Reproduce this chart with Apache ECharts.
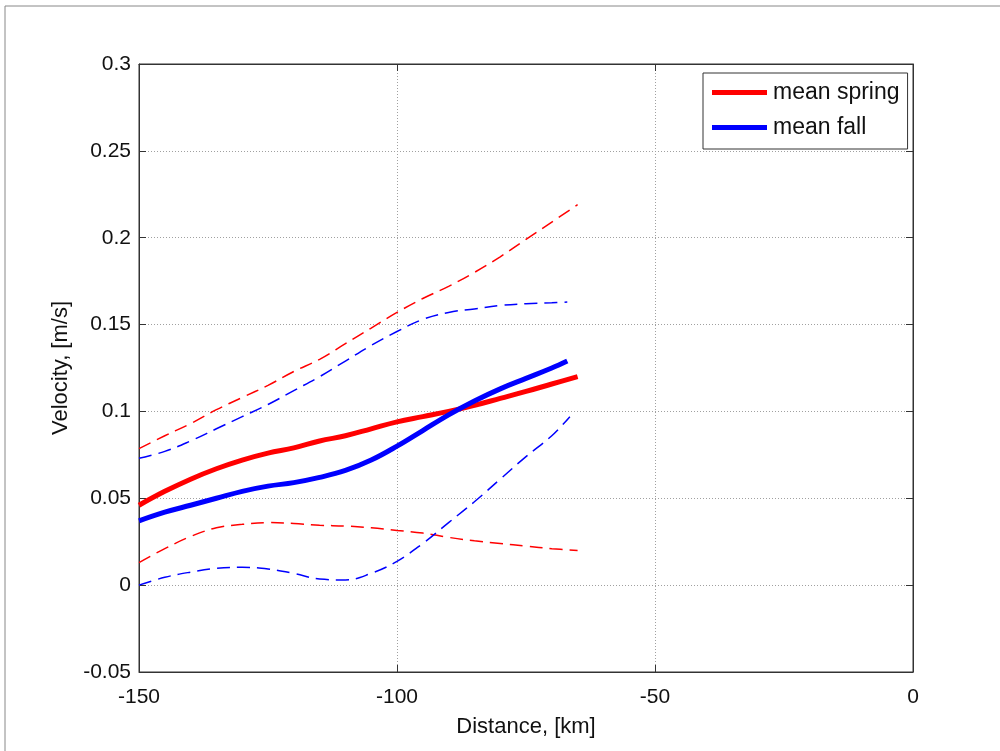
<!DOCTYPE html>
<html><head><meta charset="utf-8">
<script src="https://cdn.jsdelivr.net/npm/echarts@6/dist/echarts.min.js"></script>
<style>html,body{margin:0;padding:0;background:#fff}#c{width:1000px;height:751px}</style>
</head><body><div id="c"></div>
<script>
const springMeanX = [-150,-145,-140,-135,-130,-125,-120,-115,-110,-105,-100,-95,-90,-85,-80,-75,-70,-65];
const springMean  = [0.046,0.054,0.061,0.067,0.072,0.076,0.079,0.083,0.086,0.090,0.094,0.097,0.100,0.1035,0.1075,0.1115,0.1158,0.120];
const fallMeanX   = [-150,-145,-140,-135,-130,-125,-120,-115,-110,-105,-100,-95,-90,-85,-80,-75,-70,-67];
const fallMean    = [0.037,0.042,0.046,0.050,0.054,0.057,0.059,0.062,0.066,0.072,0.080,0.089,0.098,0.106,0.113,0.119,0.125,0.129];
const springUpperX = springMeanX;
const springUpper = [0.0786,0.086,0.093,0.101,0.108,0.115,0.123,0.130,0.139,0.148,0.157,0.165,0.172,0.180,0.189,0.199,0.209,0.219];
const fallUpperX  = fallMeanX;
const fallUpper   = [0.073,0.077,0.083,0.090,0.097,0.104,0.112,0.120,0.129,0.138,0.146,0.153,0.157,0.159,0.161,0.162,0.1625,0.163];
const springLowerX = springMeanX;
const springLower = [0.013,0.021,0.028,0.033,0.035,0.036,0.0355,0.0345,0.034,0.033,0.0315,0.030,0.0275,0.0255,0.024,0.0225,0.021,0.020];
const fallLowerX  = [-150,-145,-140,-135,-130,-125,-120,-115,-110,-105,-100,-95,-90,-85,-80,-75,-70,-66.5];
const fallLower   = [0.000,0.0045,0.0075,0.0097,0.0103,0.0093,0.0068,0.0035,0.003,0.0068,0.0137,0.024,0.036,0.048,0.061,0.074,0.086,0.097];

const zip = (xs, ys) => xs.map((x, i) => [x, ys[i]]);
const FONT = 'Liberation Sans';
const RED = '#ff0000', BLUE = '#0000ff';

const chart = echarts.init(document.getElementById('c'), null, {renderer: 'canvas'});
const gridLine = {show: true, lineStyle: {color: '#a0a0a0', type: [1, 2], width: 1}};
const dashed = c => ({color: c, width: 1.5, type: [13, 7]});
chart.setOption({
  animation: false,
  backgroundColor: '#fff',
  graphic: [{type: 'rect', shape: {x: 5, y: 6, width: 1100, height: 900}, style: {fill: 'none', stroke: '#888', lineWidth: 1}, z: -1}],
  grid: {left: 139, right: 87, top: 64, bottom: 79, show: true, borderColor: '#333', borderWidth: 1,
    backgroundColor: '#fff', containLabel: false, outerBoundsMode: 'none'},
  legend: {
    data: ['mean spring', 'mean fall'], orient: 'vertical', left: 703, top: 73,
    backgroundColor: '#fff', borderColor: '#333', borderWidth: 1,
    padding: [8, 8, 10, 9], itemGap: 12, itemWidth: 55, itemHeight: 5, icon: 'rect',
    textStyle: {fontFamily: FONT, fontSize: 23, color: '#111', padding: [0, 0, 0, 1]}
  },
  xAxis: [{
    type: 'value', min: -150, max: 0, interval: 50,
    name: 'Distance, [km]', nameLocation: 'middle', nameGap: 44,
    nameTextStyle: {fontFamily: FONT, fontSize: 22, color: '#111'},
    axisLine: {show: true, onZero: false, lineStyle: {color: '#333'}},
    axisTick: {show: true, inside: true, length: 7, lineStyle: {color: '#333'}},
    axisLabel: {fontFamily: FONT, fontSize: 21, color: '#111', margin: 15},
    splitLine: gridLine
  }, {
    type: 'value', position: 'top', min: -150, max: 0, interval: 50,
    axisLine: {show: true, onZero: false, lineStyle: {color: '#333'}},
    axisTick: {show: true, inside: true, length: 7, lineStyle: {color: '#333'}},
    axisLabel: {show: false}, splitLine: {show: false}
  }],
  yAxis: [{
    type: 'value', min: -0.05, max: 0.3, interval: 0.05,
    name: 'Velocity, [m/s]', nameLocation: 'middle', nameGap: 62,
    nameTextStyle: {fontFamily: FONT, fontSize: 22, color: '#111'},
    axisLine: {show: true, onZero: false, lineStyle: {color: '#333'}},
    axisTick: {show: true, inside: true, length: 7, lineStyle: {color: '#333'}},
    axisLabel: {fontFamily: FONT, fontSize: 21, color: '#111', margin: 8,
      formatter: v => String(Math.round(v * 100) / 100)},
    splitLine: gridLine
  }, {
    type: 'value', position: 'right', min: -0.05, max: 0.3, interval: 0.05,
    axisLine: {show: true, onZero: false, lineStyle: {color: '#333'}},
    axisTick: {show: true, inside: true, length: 7, lineStyle: {color: '#333'}},
    axisLabel: {show: false}, splitLine: {show: false}
  }],
  series: [
    {name: 'spring upper', type: 'line', data: zip(springUpperX, springUpper), smooth: 0.4, showSymbol: false,
      lineStyle: dashed(RED), itemStyle: {color: RED}, z: 3},
    {name: 'spring lower', type: 'line', data: zip(springLowerX, springLower), smooth: 0.4, showSymbol: false,
      lineStyle: dashed(RED), itemStyle: {color: RED}, z: 3},
    {name: 'fall upper', type: 'line', data: zip(fallUpperX, fallUpper), smooth: 0.4, showSymbol: false,
      lineStyle: dashed(BLUE), itemStyle: {color: BLUE}, z: 3},
    {name: 'fall lower', type: 'line', data: zip(fallLowerX, fallLower), smooth: 0.4, showSymbol: false,
      lineStyle: dashed(BLUE), itemStyle: {color: BLUE}, z: 3},
    {name: 'mean spring', type: 'line', data: zip(springMeanX, springMean), smooth: 0.4, showSymbol: false,
      lineStyle: {color: RED, width: 5}, itemStyle: {color: RED}, z: 4},
    {name: 'mean fall', type: 'line', data: zip(fallMeanX, fallMean), smooth: 0.4, showSymbol: false,
      lineStyle: {color: BLUE, width: 5}, itemStyle: {color: BLUE}, z: 5}
  ]
});
</script></body></html>
